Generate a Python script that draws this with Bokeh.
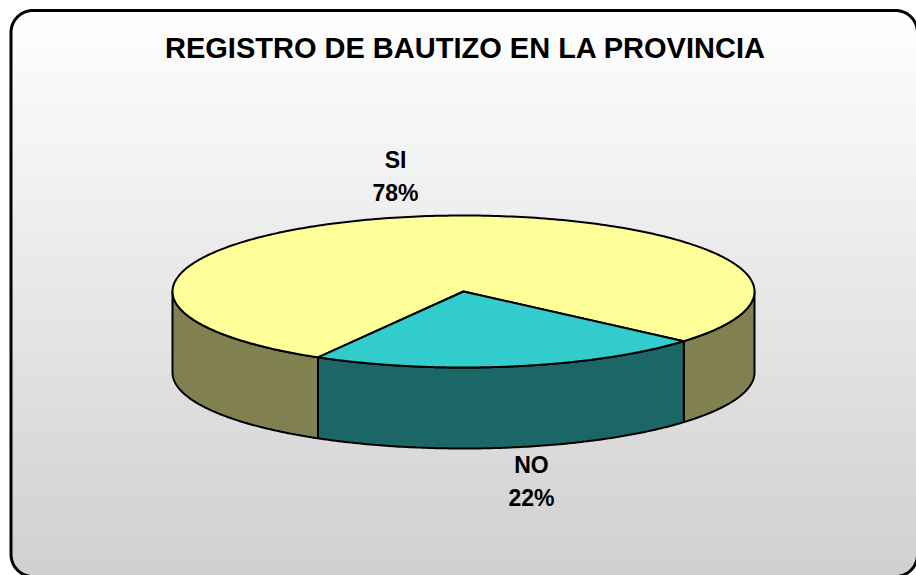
import numpy as np
from bokeh.plotting import figure
from bokeh.models import Range1d
from bokeh.core.properties import value
from bokeh.embed import file_html
from bokeh.resources import INLINE

# ---- data ----
title = "REGISTRO DE BAUTIZO EN LA PROVINCIA"
labels = ["SI", "NO"]
values = [78, 22]
pct_labels = ["78%", "22%"]

# ---- style ----
top_colors = ["#FFFF99", "#33CCCC"]
side_colors = ["#808050", "#1B6666"]
W, H = 916, 575
FONT = value("Liberation Sans")

p = figure(width=W, height=H, x_range=Range1d(0, W), y_range=Range1d(H, 0),
           output_backend="svg", toolbar_location=None, min_border=0,
           x_axis_location=None, y_axis_location=None,
           outline_line_color=None, background_fill_color="white",
           border_fill_color="white")
p.grid.visible = False

# background: rounded rectangle with vertical gradient
x0, y0, x1, y1, r = 10.5, 10.0, 917.0, 576.0, 22.0
rows = np.arange(y0, y1, 1.0)
lefts, rights, tops, bottoms, cols = [], [], [], [], []
for yy in rows:
    yc = yy + 0.5
    dx = 0.0
    if yc < y0 + r:
        d = y0 + r - yc
        dx = r - np.sqrt(max(r * r - d * d, 0))
    elif yc > y1 - r:
        d = yc - (y1 - r)
        dx = r - np.sqrt(max(r * r - d * d, 0))
    f = (yy - y0) / (y1 - y0)
    g = int(round(255 - f * (255 - 192)))
    lefts.append(x0 + dx)
    rights.append(x1 - dx)
    tops.append(yy)
    bottoms.append(yy + 1.0)
    cols.append("#%02x%02x%02x" % (g, g, g))
p.quad(left=lefts, right=rights, top=tops, bottom=bottoms, fill_color=cols,
       line_color=None)

# border path
bx, by = [], []
corners = [(x1 - r, y0 + r, -90, 0), (x1 - r, y1 - r, 0, 90),
           (x0 + r, y1 - r, 90, 180), (x0 + r, y0 + r, 180, 270)]
for ccx, ccy, a0, a1 in corners:
    t = np.radians(np.linspace(a0, a1, 20))
    bx.extend(ccx + r * np.cos(t))
    by.extend(ccy + r * np.sin(t))
bx.append(bx[0]); by.append(by[0])
p.line(bx, by, line_color="black", line_width=3)

# 3D pie
cx, cy, rx, ry, depth = 463.0, 291.0, 291.0, 76.0, 81.0
start = 120.0
total = float(sum(values))
angles = [start]
for v in values:
    angles.append(angles[-1] + 360.0 * v / total)

side_xs, side_ys, side_cols = [], [], []
top_xs, top_ys, top_cols = [], [], []
for i in range(len(values)):
    a, b = angles[i], angles[i + 1]
    for k in range(-1, 3):
        lo, hi = max(a, 360 * k), min(b, 360 * k + 180)
        if hi > lo:
            t = np.radians(np.linspace(lo, hi, 120))
            xt = cx + rx * np.cos(t)
            yt = cy + ry * np.sin(t)
            side_xs.append(list(xt) + list(xt[::-1]))
            side_ys.append(list(yt) + list((yt + depth)[::-1]))
            side_cols.append(side_colors[i])
    t = np.radians(np.linspace(a, b, 300))
    top_xs.append([cx] + list(cx + rx * np.cos(t)))
    top_ys.append([cy] + list(cy + ry * np.sin(t)))
    top_cols.append(top_colors[i])

p.patches(side_xs, side_ys, fill_color=side_cols, line_color="black",
          line_width=2, line_join="round")
p.patches(top_xs, top_ys, fill_color=top_cols, line_color="black",
          line_width=2, line_join="round")

# labels
kx, ky, gap, shift = 1.4, 1.5, 16.5, -3.0
lx, ly1, ly2 = [], [], []
for i in range(len(values)):
    tm = np.radians((angles[i] + angles[i + 1]) / 2)
    x = cx + kx * rx * np.cos(tm)
    y = cy + ky * ry * np.sin(tm) + (depth if np.sin(tm) > 0 else 0) + shift
    lx.append(x)
    ly1.append(y - gap)
    ly2.append(y + gap)
p.text(x=lx, y=ly1, text=labels, text_font=FONT, text_font_style="bold",
       text_font_size="23px", text_align="center", text_baseline="middle",
       text_color="black")
p.text(x=lx, y=ly2, text=pct_labels, text_font=FONT, text_font_style="bold",
       text_font_size="23px", text_align="center", text_baseline="middle",
       text_color="black")

p.text(x=[465], y=[47], text=[title], text_font=FONT, text_font_style="bold",
       text_font_size="29px", text_align="center", text_baseline="middle",
       text_color="black")

open("out.html", "w").write(file_html(p, INLINE))
